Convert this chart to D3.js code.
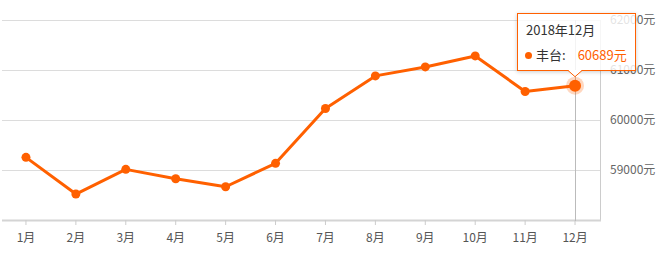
<!DOCTYPE html>
<html>
<head>
<meta charset="utf-8">
<script src="https://cdn.jsdelivr.net/npm/d3@7"></script>
<style>
  body { margin: 0; background: #fff; font-family: "Noto Sans CJK SC", "Noto Sans", sans-serif; }
  #chart { position: relative; width: 663px; height: 256px; }
  .tip {
    position: absolute; background: rgba(255,255,255,0.82); border: 1px solid #ff6000;
    box-shadow: 0 1px 4px rgba(0,0,0,0.2); font-size: 13px; color: #333; box-sizing: border-box;
  }
  .overlay { position: absolute; left: 0; top: 0; pointer-events: none; }
</style>
</head>
<body>
<div id="chart"></div>
<script>
const months = ["1月","2月","3月","4月","5月","6月","7月","8月","9月","10月","11月","12月"];
const prices = [59260, 58528, 59020, 58833, 58673, 59140, 60235, 60885, 61064, 61283, 60574, 60689];
const yTicks = [59000, 60000, 61000, 62000];
const seriesName = "丰台";
const tipTitle = "2018年12月";

const width = 663, height = 256;
const orange = "#ff6000";

const svg = d3.select("#chart").append("svg")
    .attr("width", width).attr("height", height);

const x = d3.scaleBand().domain(months).range([1, 600]);
const y = d3.scaleLinear().domain([58000, 62000]).range([220.5, 20]);
const cx = d => x(d) + x.bandwidth() / 2;

// grid lines
svg.append("g").selectAll("line").data(yTicks).join("line")
    .attr("x1", 2).attr("x2", 600)
    .attr("y1", d => Math.round(y(d)) + 0.5).attr("y2", d => Math.round(y(d)) + 0.5)
    .attr("stroke", "#dcdcdc");

// right axis line
svg.append("line").attr("x1", 600.5).attr("x2", 600.5).attr("y1", 20).attr("y2", 221)
    .attr("stroke", "#ccc");

// y labels
svg.append("g").selectAll("text").data(yTicks).join("text")
    .attr("x", 610).attr("y", d => y(d) + 4)
    .attr("font-size", 12).attr("fill", "#666")
    .text(d => d + "元");

// bottom axis
const xAxis = svg.append("g").attr("transform", "translate(0,220)")
    .call(d3.axisBottom(x).tickSize(5).tickSizeOuter(0).tickPadding(8));
xAxis.select(".domain").attr("stroke", "#d4d4d4").attr("stroke-width", 2)
    .attr("d", "M2,0.5H601");
xAxis.selectAll(".tick line").attr("stroke", "#ccc");
xAxis.selectAll(".tick text").attr("fill", "#555").attr("font-size", 12)
    .attr("font-family", "\"Noto Sans CJK SC\", sans-serif");

// pointer line at last month
const last = months.length - 1;
svg.append("line")
    .attr("x1", Math.round(cx(months[last])) + 0.5).attr("x2", Math.round(cx(months[last])) + 0.5)
    .attr("y1", 20).attr("y2", 221).attr("stroke", "#bbb");

// series line
const line = d3.line().x((d, i) => cx(months[i])).y(d => y(d));
svg.append("path").datum(prices)
    .attr("d", line).attr("fill", "none")
    .attr("stroke", orange).attr("stroke-width", 3).attr("stroke-linejoin", "round");

svg.append("g").selectAll("circle").data(prices.slice(0, last)).join("circle")
    .attr("cx", (d, i) => cx(months[i])).attr("cy", d => y(d))
    .attr("r", 4.5).attr("fill", orange);

// highlighted point
svg.append("circle").attr("cx", cx(months[last])).attr("cy", y(prices[last]))
    .attr("r", 9).attr("fill", orange).attr("fill-opacity", 0.25);
svg.append("circle").attr("cx", cx(months[last])).attr("cy", y(prices[last]))
    .attr("r", 6).attr("fill", orange);

// tooltip
const tx = cx(months[last]), ty = y(prices[last]);
const tip = d3.select("#chart").append("div").attr("class", "tip")
    .style("left", "517px").style("top", "13px")
    .style("width", "119px").style("height", "58px");
tip.append("div").style("position", "absolute").style("left", "8px").style("top", "6px")
    .text(tipTitle);
const row = tip.append("div").style("position", "absolute").style("left", "7px").style("top", "31px")
    .style("white-space", "nowrap");
row.append("span").style("display", "inline-block").style("width", "7px").style("height", "7px")
    .style("border-radius", "50%").style("background", orange).style("margin-right", "4px")
    .style("vertical-align", "1px");
row.append("span").text(seriesName + ":");
row.append("span").style("color", orange).style("margin-left", "12px").style("font-size", "13px")
    .text(prices[last] + "元");

// tooltip tail, drawn over the box border
const over = d3.select("#chart").append("svg").attr("class", "overlay")
    .attr("width", width).attr("height", height);
over.append("path")
    .attr("d", `M${tx - 7},70L${tx},${ty - 9}L${tx + 7},70Z`)
    .attr("fill", "#fff").attr("stroke", "none");
over.append("path")
    .attr("d", `M${tx - 7},70.5L${tx},${ty - 9}L${tx + 7},70.5`)
    .attr("fill", "none").attr("stroke", orange);
</script>
</body>
</html>
